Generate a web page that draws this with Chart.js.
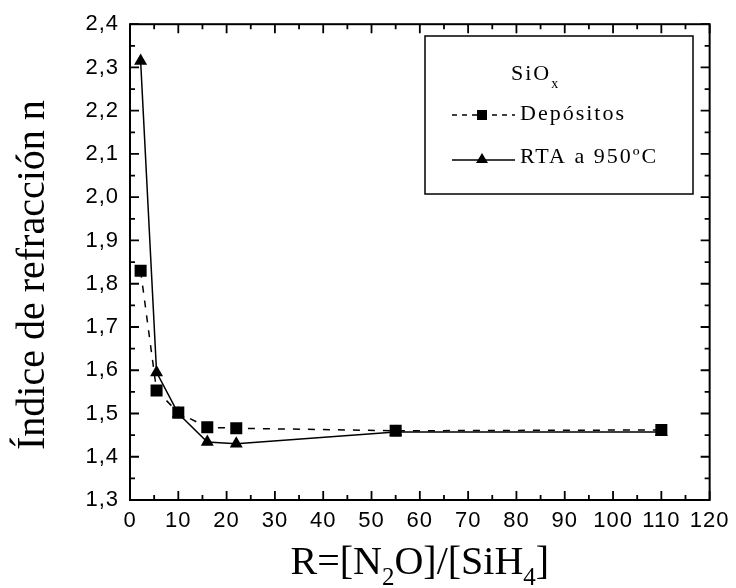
<!DOCTYPE html>
<html>
<head>
<meta charset="utf-8">
<script src="https://cdn.jsdelivr.net/npm/chart.js@4.4.1/dist/chart.umd.min.js"></script>
<style>
  html, body { margin: 0; padding: 0; background: #fff; }
  #wrap { width: 736px; height: 588px; }
</style>
</head>
<body>
<div id="wrap"><canvas id="myChart" width="736" height="588"></canvas></div>
<script>
// data
const rValues = [2.2, 5.5, 10, 16, 22, 55, 110];
const depositos = [1.83, 1.553, 1.502, 1.468, 1.466, 1.46, 1.462];
const rta = [2.315, 1.595, 1.5, 1.434, 1.43, 1.457, 1.457];
const seriesLabels = ['Depósitos', 'RTA a 950ºC'];
const xTicks = [0, 120, 10];   // min, max, step
const yTicks = [1.3, 2.4, 0.1];

function toPoints(ys) {
  return rValues.map((x, i) => ({ x: x, y: ys[i] }));
}

// frame, inward ticks, titles and legend
const framePlugin = {
  id: 'frame',
  beforeDraw(chart) {
    chart.ctx.letterSpacing = '1px';
  },
  afterDraw(chart) {
    const ctx = chart.ctx;
    const a = chart.chartArea;
    const xs = chart.scales.x, ys = chart.scales.y;
    ctx.save();
    ctx.letterSpacing = '0px';
    ctx.strokeStyle = '#000';
    ctx.lineWidth = 2;
    ctx.strokeRect(a.left, a.top, a.right - a.left, a.bottom - a.top);

    ctx.lineWidth = 1.8;
    ctx.beginPath();
    const xt = xs.ticks.map(t => t.value);
    xt.forEach((v, i) => {
      const px = xs.getPixelForValue(v);
      ctx.moveTo(px, a.bottom); ctx.lineTo(px, a.bottom - 9);
      ctx.moveTo(px, a.top); ctx.lineTo(px, a.top + 9);
      if (i < xt.length - 1) {
        const pm = xs.getPixelForValue((v + xt[i + 1]) / 2);
        ctx.moveTo(pm, a.bottom); ctx.lineTo(pm, a.bottom - 5);
        ctx.moveTo(pm, a.top); ctx.lineTo(pm, a.top + 5);
      }
    });
    const yt = ys.ticks.map(t => t.value);
    yt.forEach((v, i) => {
      const py = ys.getPixelForValue(v);
      ctx.moveTo(a.left, py); ctx.lineTo(a.left + 9, py);
      ctx.moveTo(a.right, py); ctx.lineTo(a.right - 9, py);
      if (i < yt.length - 1) {
        const pm = ys.getPixelForValue((v + yt[i + 1]) / 2);
        ctx.moveTo(a.left, pm); ctx.lineTo(a.left + 5, pm);
        ctx.moveTo(a.right, pm); ctx.lineTo(a.right - 5, pm);
      }
    });
    ctx.stroke();

    // axis titles
    ctx.fillStyle = '#000';
    ctx.textBaseline = 'alphabetic';
    ctx.save();
    ctx.translate(44, (a.top + a.bottom) / 2 + 13);
    ctx.rotate(-Math.PI / 2);
    ctx.font = '40px "Liberation Serif", "Times New Roman", serif';
    ctx.textAlign = 'center';
    ctx.fillText('Índice de refracción n', 0, 0);
    ctx.restore();

    const big = '40px "Liberation Serif", "Times New Roman", serif';
    const sub = '25px "Liberation Serif", "Times New Roman", serif';
    const parts = [['R=[N', big, 0], ['2', sub, 11], ['O]/[SiH', big, 0], ['4', sub, 11], [']', big, 0]];
    let w = 0;
    parts.forEach(p => { ctx.font = p[1]; w += ctx.measureText(p[0]).width; });
    let x0 = (a.left + a.right) / 2 - w / 2;
    ctx.textAlign = 'left';
    parts.forEach(p => {
      ctx.font = p[1];
      ctx.fillText(p[0], x0, 574 + p[2]);
      x0 += ctx.measureText(p[0]).width;
    });

    // legend box
    ctx.lineWidth = 1.5;
    ctx.strokeRect(425, 36, 268, 158);
    ctx.letterSpacing = '2px';
    ctx.font = '22px "Liberation Serif", "Times New Roman", serif';
    ctx.fillText('SiO', 511, 80);
    const sw = ctx.measureText('SiO').width;
    ctx.font = '14px "Liberation Serif", "Times New Roman", serif';
    ctx.fillText('x', 511 + sw, 88);

    ctx.font = '22px "Liberation Serif", "Times New Roman", serif';
    ctx.fillText(seriesLabels[0], 520, 120);
    ctx.fillText(seriesLabels[1], 520, 163);
    ctx.letterSpacing = '0px';

    ctx.lineWidth = 1.4;
    ctx.setLineDash([5, 5]);
    ctx.beginPath(); ctx.moveTo(452, 115); ctx.lineTo(515, 115); ctx.stroke();
    ctx.setLineDash([]);
    ctx.fillRect(482 - 5, 115 - 5, 10, 10);
    ctx.beginPath(); ctx.moveTo(452, 160); ctx.lineTo(515, 160); ctx.stroke();
    ctx.beginPath();
    ctx.moveTo(482, 153); ctx.lineTo(488, 163); ctx.lineTo(476, 163); ctx.closePath();
    ctx.fill();
    ctx.restore();
  }
};

const ctx = document.getElementById('myChart').getContext('2d');
const myChart = new Chart(ctx, {
  type: 'scatter',
  data: {
    datasets: [{
      label: seriesLabels[0],
      data: toPoints(depositos),
      showLine: true,
      borderColor: '#000',
      backgroundColor: '#000',
      borderWidth: 1.5,
      borderDash: [7, 8],
      pointStyle: 'rect',
      pointRadius: 8.5,
      pointBorderWidth: 0
    }, {
      label: seriesLabels[1],
      data: toPoints(rta),
      showLine: true,
      borderColor: '#000',
      backgroundColor: '#000',
      borderWidth: 1.5,
      pointStyle: 'triangle',
      pointRadius: 7.5,
      pointBorderWidth: 0
    }]
  },
  options: {
    responsive: false,
    animation: false,
    layout: { padding: { top: 20, right: 24, left: 0, bottom: 0 } },
    scales: {
      x: {
        type: 'linear',
        min: xTicks[0],
        max: xTicks[1],
        ticks: {
          stepSize: xTicks[2],
          padding: 8,
          color: '#000',
          maxRotation: 0,
          autoSkip: false,
          font: { family: '"Liberation Sans", Arial, sans-serif', size: 22 }
        },
        grid: { display: false, drawTicks: false },
        border: { display: false },
        afterFit(scale) { scale.height = 88; }
      },
      y: {
        type: 'linear',
        min: yTicks[0],
        max: yTicks[1],
        ticks: {
          stepSize: yTicks[2],
          padding: 11,
          color: '#000',
          autoSkip: false,
          font: { family: '"Liberation Sans", Arial, sans-serif', size: 22 },
          callback: function(value) {
            return value.toFixed(1).replace('.', ',');
          }
        },
        grid: { display: false, drawTicks: false },
        border: { display: false },
        afterFit(scale) { scale.width = 130; }
      }
    },
    plugins: {
      legend: { display: false },
      tooltip: { enabled: false }
    }
  },
  plugins: [framePlugin]
});
</script>
</body>
</html>
